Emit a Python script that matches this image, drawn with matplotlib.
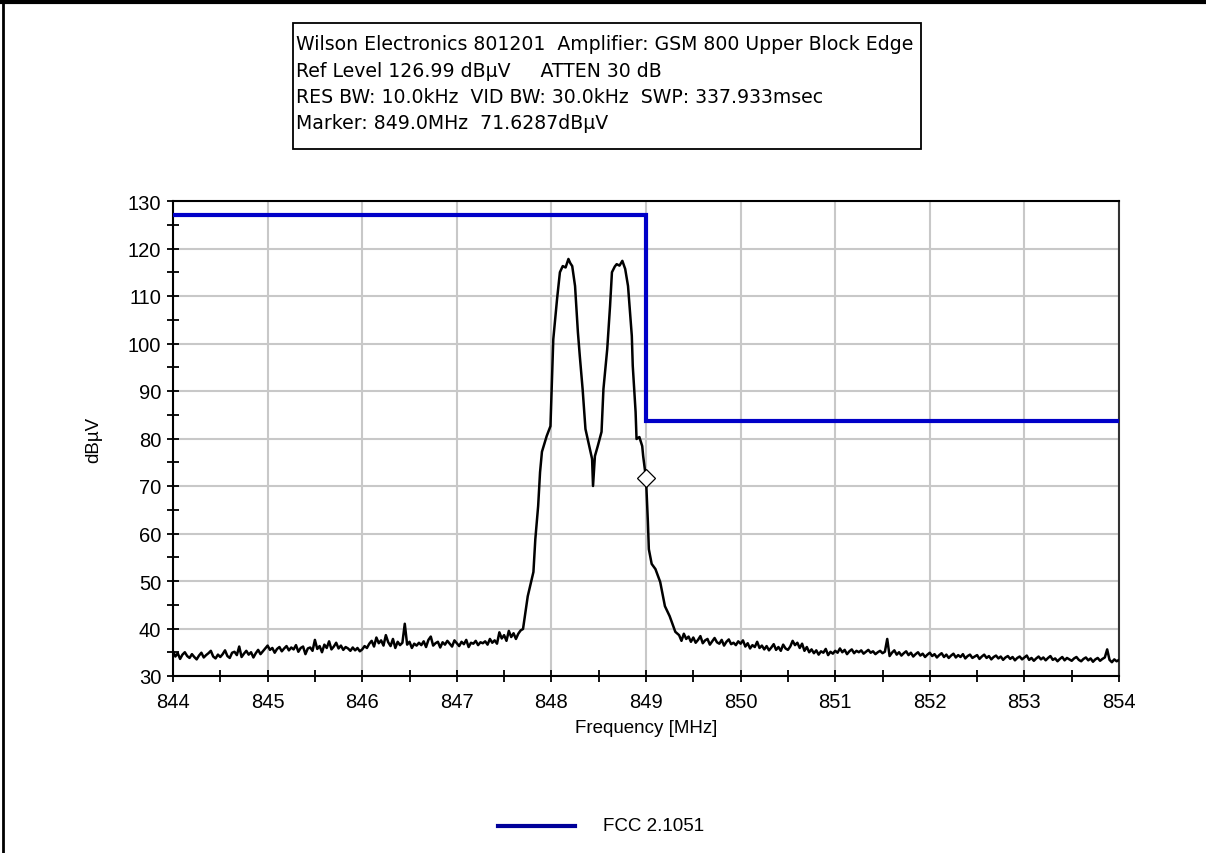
import numpy as np
import matplotlib
matplotlib.use("Agg")
import matplotlib.pyplot as plt
from matplotlib.lines import Line2D
from matplotlib.ticker import MultipleLocator

plt.rcParams['font.family'] = ['Liberation Sans', 'DejaVu Sans']

# ---------------- data ----------------
info_lines = [
    "Wilson Electronics 801201  Amplifier: GSM 800 Upper Block Edge",
    "Ref Level 126.99 dB\u00b5V     ATTEN 30 dB",
    "RES BW: 10.0kHz  VID BW: 30.0kHz  SWP: 337.933msec",
    "Marker: 849.0MHz  71.6287dB\u00b5V",
]
x_label = "Frequency [MHz]"
y_label = "dB\u00b5V"
legend_label = "FCC 2.1051"

limit_freq = [844.0, 849.0, 849.0, 854.0]
limit_level = [126.99, 126.99, 83.6, 83.6]

marker_freq = 849.0
marker_level = 71.6287

# noise floor below the carriers, 844.000 .. 847.675 MHz (25 kHz steps)
noise_left_start = 844.0
noise_left = [
    35.2, 34.1, 34.8, 33.6, 34.5, 35.0, 34.2, 33.8, 34.6, 34.0, 33.5, 34.3, 34.9, 33.9, 34.4, 34.8, 35.3, 34.1, 33.7, 34.5,
    34.0, 34.6, 35.4, 34.2, 33.8, 34.9, 35.1, 34.4, 36.2, 34.0, 34.7, 35.3, 34.5, 35.0, 33.9, 34.8, 35.5, 34.6, 35.2, 35.8,
    36.4, 35.5, 35.9, 34.9, 35.7, 36.1, 35.2, 35.8, 36.3, 35.4, 36.0, 35.6, 36.5, 35.1, 35.9, 36.2, 34.6, 35.8, 36.0, 35.3,
    37.6, 35.7, 36.3, 35.0, 36.6, 35.9, 37.3, 35.6, 36.2, 37.0, 35.8, 36.4, 35.5, 36.1, 35.8, 35.3, 36.0, 35.4, 35.9, 35.2,
    35.6, 36.3, 35.9, 36.8, 37.4, 36.2, 38.1, 36.9, 37.5, 36.4, 38.6, 37.1, 36.3, 37.8, 35.9, 37.2, 36.5, 37.0, 41.0, 36.6,
    37.2, 35.9, 36.8, 36.4, 37.0, 36.5, 37.3, 36.1, 37.6, 38.3, 36.4, 36.9, 37.2, 36.0, 37.1, 36.6, 37.4, 36.8, 36.2, 37.5,
    36.9, 36.3, 37.2, 36.7, 37.6, 36.1, 37.0, 36.8, 37.4, 36.5, 37.1, 36.9, 37.3, 36.6, 37.8, 37.0, 37.5, 36.8, 39.2, 37.9,
    38.6, 37.4, 39.5, 38.2, 39.0, 37.8, 38.9, 39.6,
]

# the two GSM carriers
carrier_freq = [
    847.70, 847.75, 847.81, 847.83, 847.86, 847.88, 847.90, 847.95, 847.99, 848.01,
    848.02, 848.06, 848.09, 848.12, 848.15, 848.18, 848.20, 848.22, 848.25, 848.28,
    848.30, 848.33, 848.36, 848.39, 848.43, 848.44, 848.46, 848.49, 848.53, 848.55,
    848.59, 848.62, 848.64, 848.67, 848.69, 848.72, 848.75, 848.78, 848.81, 848.85,
    848.86, 848.89, 848.90, 848.93, 848.96, 848.97, 849.00, 849.02, 849.03, 849.06,
    849.10, 849.15, 849.20, 849.25, 849.31,
]
carrier_level = [
    39.9, 46.8, 51.9, 58.8, 65.8, 72.9, 77.2, 80.5, 82.6, 94.6,
    100.9, 109.4, 115.0, 116.3, 116.0, 117.8, 116.9, 116.3, 112.1, 102.4,
    97.4, 90.4, 82.0, 79.3, 75.7, 70.0, 76.3, 78.4, 81.4, 90.4,
    98.8, 107.9, 115.0, 116.2, 116.7, 116.4, 117.4, 115.7, 112.1, 101.6,
    95.3, 85.6, 79.9, 80.3, 78.4, 76.3, 71.6, 62.4, 56.7, 53.6,
    52.5, 49.8, 44.7, 42.6, 39.3,
]

# noise floor above the carriers, 849.350 .. 854.000 MHz (25 kHz steps)
noise_right_start = 849.35
noise_right = [
    38.6, 37.4, 38.9, 37.8, 38.3, 37.2,
    38.1, 37.0, 37.6, 38.4, 36.9, 37.5, 37.8, 36.6, 37.3, 38.0, 37.1, 36.8, 37.6, 36.4, 37.2, 37.7, 36.7, 37.0, 36.5, 37.3,
    36.8, 37.5, 36.2, 36.9, 35.8, 36.5, 36.1, 37.2, 35.9, 36.4, 35.6, 36.3, 35.4, 36.0, 36.7, 35.5, 36.1, 35.3, 36.6, 35.8,
    35.5, 36.2, 37.4, 36.5, 37.0, 35.9, 36.8, 35.3, 36.1, 35.0, 35.6, 34.8, 35.4, 34.5, 35.2, 34.9, 35.7, 34.4, 35.1, 34.7,
    35.3, 34.9, 35.8, 35.0, 35.5, 34.6, 35.2, 35.6, 34.8, 35.3, 35.0, 35.4, 34.7, 35.1, 35.5, 34.9, 35.2, 34.6, 35.0, 35.3,
    34.8, 35.1, 37.8, 34.2, 34.9, 35.4, 34.5, 35.0, 34.3, 34.8, 35.2, 34.4, 34.9, 34.1, 34.6, 35.0, 34.3, 34.7, 34.0, 34.5,
    34.9, 34.2, 34.6, 33.9, 34.4, 34.8, 34.0, 34.5, 33.8, 34.3, 34.7, 33.9, 34.4, 34.0, 34.6, 33.7, 34.2, 34.5, 33.8, 34.1,
    34.4, 33.6, 34.1, 34.5, 33.8, 34.2, 33.5, 34.0, 34.3, 33.7, 34.1, 33.4, 33.9, 34.2, 33.6, 34.0, 33.3, 33.8, 34.1, 33.5,
    33.9, 34.3, 33.4, 33.8, 33.2, 33.7, 34.1, 33.5, 33.9, 33.3, 33.8, 34.2, 33.4, 33.7, 33.1, 33.6, 34.0, 33.3, 33.8, 33.5,
    33.2, 33.7, 34.0, 33.4, 33.1, 33.6, 33.9, 33.3, 33.7, 33.0, 33.5, 33.8, 33.2, 33.6, 33.9, 35.6, 33.4, 32.9, 33.5, 33.1,
    33.4,
]
step_mhz = 0.025

x_ticks = [844, 845, 846, 847, 848, 849, 850, 851, 852, 853, 854]
y_ticks = [30, 40, 50, 60, 70, 80, 90, 100, 110, 120, 130]

# ---------------- build trace ----------------
f_left = noise_left_start + step_mhz * np.arange(len(noise_left))
f_right = noise_right_start + step_mhz * np.arange(len(noise_right))
trace_f = np.concatenate([f_left, np.array(carrier_freq), f_right])
trace_l = np.concatenate([np.array(noise_left), np.array(carrier_level), np.array(noise_right)])

# ---------------- figure ----------------
fig = plt.figure(figsize=(12.06, 8.54), dpi=100)
ax = fig.add_axes([173 / 1206, 1 - 677 / 854, (1119 - 173) / 1206, (677 - 202) / 854])

ax.grid(True, which='major', color='#c8c8c8', linewidth=1.5)
ax.set_axisbelow(True)

ax.plot(limit_freq, limit_level, color='#0000c8', linewidth=3, zorder=3, solid_joinstyle='miter')
ax.plot(trace_f, trace_l, color='black', linewidth=1.8, zorder=4)
ax.plot([marker_freq], [marker_level], marker='D', markersize=9, markerfacecolor='white',
        markeredgecolor='black', markeredgewidth=0.9, linestyle='none', zorder=5)

ax.set_xlim(844, 854)
ax.set_ylim(30, 130)
ax.set_xticks(x_ticks)
ax.set_yticks(y_ticks)
ax.xaxis.set_minor_locator(MultipleLocator(0.5))
ax.yaxis.set_minor_locator(MultipleLocator(5))
ax.tick_params(axis='both', which='both', direction='inout', length=9, width=1.3,
               labelsize=14.5, colors='black', pad=4)
ax.tick_params(axis='x', which='major', pad=7)
for s in ax.spines.values():
    s.set_linewidth(1.5)
    s.set_color('black')
ax.spines['right'].set_color('#333333')

ax.set_xlabel(x_label, fontsize=13.5, labelpad=6)
ax.set_ylabel(y_label, fontsize=13.5, labelpad=18)

# info box
box_l, box_t, box_r, box_b = 293, 24, 921, 150
fig.patches.append(plt.Rectangle((box_l / 1206, 1 - box_b / 854), (box_r - box_l) / 1206,
                                 (box_b - box_t) / 854, transform=fig.transFigure,
                                 facecolor='white', edgecolor='black', linewidth=1.3))
for i, line in enumerate(info_lines):
    fig.text(296 / 1206, 1 - (45 + 26.3 * i) / 854, line, fontsize=13.6, ha='left',
             va='center', color='black', family=['DejaVu Sans'])

# legend
fig.lines.append(Line2D([498 / 1206, 575 / 1206], [1 - 827 / 854, 1 - 827 / 854],
                        transform=fig.transFigure, color='#00009a', linewidth=3))
fig.text(603 / 1206, 1 - 827 / 854, legend_label, fontsize=13.5, ha='left', va='center')

# outer frame lines (top and left)
fig.lines.append(Line2D([0, 1], [1 - 3 / 854, 1 - 3 / 854], transform=fig.transFigure,
                        color='black', linewidth=3))
fig.lines.append(Line2D([3 / 1206, 3 / 1206], [0, 1], transform=fig.transFigure,
                        color='black', linewidth=2))

fig.savefig("out.png", dpi=100, facecolor='white')
